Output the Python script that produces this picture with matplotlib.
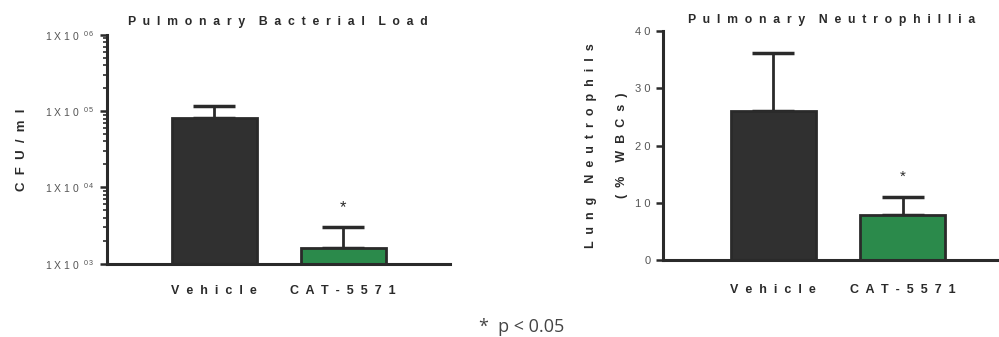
import matplotlib
matplotlib.use("Agg")
import matplotlib.pyplot as plt
from matplotlib.ticker import FixedLocator, LogLocator, NullFormatter

plt.rcParams['font.family'] = ['Liberation Sans', 'DejaVu Sans']
plt.rcParams['mathtext.default'] = 'regular'

groups = ["Vehicle", "CAT-5571"]
cfu_mean = [8.1e4, 1.6e3]
cfu_err = [3.6e4, 1.4e3]
neut_mean = [26.0, 7.9]
neut_err = [10.1, 3.1]
colors = ["#303030", "#2b8a4b"]
cfu_ticks = [1e3, 1e4, 1e5, 1e6]
cfu_ticklabels = [r"1 X 1 0  $^{0\,3}$", r"1 X 1 0  $^{0\,4}$",
                  r"1 X 1 0  $^{0\,5}$", r"1 X 1 0  $^{0\,6}$"]
neut_ticks = [0, 10, 20, 30, 40]


def spaced(s, gap="  ", word="    "):
    return word.join(gap.join(w) for w in s.split(" "))


ink = "#2a2a2a"
fig = plt.figure(figsize=(9.99, 3.37), dpi=100)


def style(ax):
    for side in ["top", "right"]:
        ax.spines[side].set_visible(False)
    for side in ["left", "bottom"]:
        ax.spines[side].set_linewidth(2.2)
        ax.spines[side].set_color(ink)
    ax.tick_params(axis='x', length=0, pad=15, labelsize=9, labelcolor=ink)
    ax.tick_params(axis='y', which='major', length=5, width=1.8, color=ink,
                   labelsize=7.5, labelcolor="#555555", pad=4)
    ax.set_xticks([0, 1])
    ax.set_xticklabels([spaced(g) for g in groups], fontweight='bold')


def bars(ax, means, errs, bottom=0):
    x = [0, 1]
    heights = [m - bottom for m in means]
    ax.bar(x, heights, bottom=bottom, width=0.66, color=colors,
           edgecolor=ink, linewidth=2, zorder=2)
    ax.errorbar(x, means, yerr=[[0, 0], errs], fmt='none', ecolor=ink,
                elinewidth=2, capsize=15, capthick=2.5, zorder=1)


# left panel: bacterial load
ax1 = fig.add_axes([0.107, 0.217, 0.343, 0.68])
ax1.set_yscale('log')
bars(ax1, cfu_mean, cfu_err, bottom=1e3)
ax1.set_ylim(1e3, 1e6)
ax1.set_xlim(-0.833, 1.826)
ax1.yaxis.set_major_locator(FixedLocator(cfu_ticks))
ax1.set_yticklabels(cfu_ticklabels)
ax1.yaxis.set_minor_locator(LogLocator(base=10, subs=range(2, 10)))
ax1.yaxis.set_minor_formatter(NullFormatter())
ax1.tick_params(axis='y', which='minor', length=3, width=1.2, color=ink)
style(ax1)
ax1.set_title(spaced("Pulmonary Bacterial Load"), fontsize=8.8,
              fontweight='bold', color=ink, pad=7)
ax1.set_ylabel(spaced("CFU/ml"), fontsize=9.5, fontweight='bold', color=ink,
               labelpad=12)
ax1.text(1, (cfu_mean[1] + cfu_err[1]) * 1.45, "*", ha='center', va='bottom',
         fontsize=12, color=ink)

# right panel: neutrophils
ax2 = fig.add_axes([0.664, 0.228, 0.336, 0.68])
bars(ax2, neut_mean, neut_err)
ax2.set_ylim(0, 40)
ax2.set_xlim(-0.85, 1.745)
ax2.set_yticks(neut_ticks)
style(ax2)
ax2.set_yticklabels([spaced(str(t), gap=" ") for t in neut_ticks])
ax2.tick_params(axis='y', labelsize=8)
ax2.tick_params(axis='x', pad=17)
ax2.set_title(spaced("Pulmonary Neutrophillia"), fontsize=8.8,
              fontweight='bold', color=ink, pad=6)
ax2.set_ylabel(spaced("Lung Neutrophils") + "\n" + spaced("(% WBCs)"),
               fontsize=9, fontweight='bold', color=ink, labelpad=5,
               linespacing=3.2)
ax2.text(1, neut_mean[1] + neut_err[1] + 2.3, "*", ha='center', va='bottom',
         fontsize=11, color=ink)

fig.text(0.522, 0.03, "*  p < 0.05", ha='center', va='center', fontsize=13,
         color="#444444", family=['Open Sans', 'DejaVu Sans'])

fig.savefig("out.png", dpi=100)
